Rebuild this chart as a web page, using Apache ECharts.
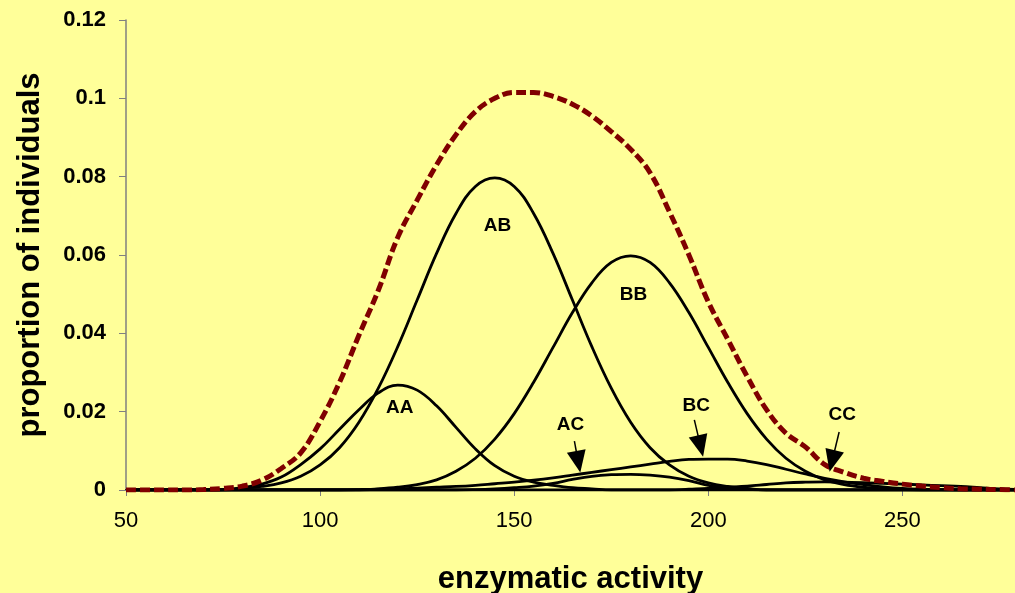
<!DOCTYPE html>
<html>
<head>
<meta charset="utf-8">
<script src="https://cdn.jsdelivr.net/npm/echarts@6/dist/echarts.min.js"></script>
<style>
html,body{margin:0;padding:0;background:#FFFF99;}
#chart{width:1015px;height:593px;}
</style>
</head>
<body>
<div id="chart"></div>
<script>
// enzymatic activity (x values)
var xs = [50,55,60,65,70,75,80,85,90,95,100,105,110,115,120,125,130,135,140,145,150,155,160,165,170,175,180,185,190,195,200,205,210,215,220,225,230,235,240,245,250,255,260,265,270,275,280];

var total = [0,0,0,0,0.0001,0.0004,0.001,0.0025,0.0055,0.0095,0.0175,0.0275,0.0395,0.051,0.0645,0.074,0.083,0.0907,0.0966,0.1,0.1015,0.1015,0.1005,0.0985,0.0955,0.0915,0.087,0.081,0.071,0.06,0.048,0.0385,0.029,0.0205,0.0145,0.011,0.0065,0.0045,0.003,0.0022,0.0015,0.001,0.0006,0.0003,0.0002,0.0001,0];

var AA = [0,0,0,0,0,0.0001,0.0006,0.0015,0.0033,0.0065,0.0105,0.0155,0.0205,0.0248,0.0268,0.0255,0.0215,0.016,0.0105,0.0062,0.0035,0.002,0.0012,0.0006,0.0003,0,0,0,0,0,0,0,0,0,0,0,0,0,0,0,0,0,0,0,0,0,0];

var AB = [0,0,0,0,0,0,0.0004,0.0009,0.0018,0.0035,0.0064,0.0108,0.0173,0.026,0.0366,0.0485,0.0604,0.0706,0.0775,0.0797,0.0775,0.0706,0.0604,0.0485,0.0366,0.026,0.0173,0.0108,0.0064,0.0035,0.0018,0.0009,0.0004,0,0,0,0,0,0,0,0,0,0,0,0,0,0];

var BB = [0,0,0,0,0,0,0,0,0,0,0,0,0.0001,0.0003,0.0007,0.0014,0.0026,0.0048,0.0081,0.013,0.0195,0.0275,0.0364,0.0453,0.0529,0.0581,0.0598,0.0581,0.0529,0.0453,0.0364,0.0275,0.0195,0.013,0.0081,0.0048,0.0026,0.0014,0.0007,0.0003,0.0001,0,0,0,0,0,0];

var AC = [0,0,0,0,0,0,0,0,0,0,0,0,0,0,0,0,0,0,0.0001,0.0003,0.0006,0.001,0.0017,0.0027,0.0035,0.0039,0.004,0.0038,0.0033,0.0024,0.0012,0.0005,0.0002,0,0,0,0,0,0,0,0,0,0,0,0,0,0];

var BC = [0,0,0,0,0,0,0,0,0,0,0,0,0,0.0002,0.0003,0.0005,0.0007,0.0009,0.0012,0.0016,0.002,0.0025,0.0031,0.0038,0.0045,0.0052,0.0059,0.0066,0.0073,0.0078,0.0079,0.0079,0.0074,0.0065,0.0053,0.0041,0.003,0.0021,0.0014,0.0008,0.0004,0.0002,0.0001,0,0,0,0];

var CC = [0,0,0,0,0,0,0,0,0,0,0,0,0,0,0,0,0,0,0,0,0,0,0,0,0,0,0,0,0,0.0002,0.0004,0.0007,0.001,0.0014,0.0018,0.002,0.0021,0.002,0.0019,0.0017,0.0015,0.0013,0.0011,0.0009,0.0006,0.0003,0.0001];

// curve labels [text, x, y]
var curveLabels = [["AA",120.5,0.0209],["AB",145.7,0.0674],["BB",180.7,0.0498],["AC",164.5,0.0166],["BC",196.9,0.0215],["CC",234.5,0.0192]];
// arrows [[x0,y0],[x1,y1]]
var arrows = [[[165.5,0.0125],[166.5,0.0072]],[[196.4,0.0179],[198.0,0.0112]],[[233.7,0.0148],[231.9,0.0074]]];

var xTicks = {min:50, max:279, interval:50};
var yTicks = {min:0, max:0.12, interval:0.02};

function pairs(arr){ return xs.map(function(x,i){ return [x, arr[i]]; }); }

var FONT = "'Liberation Sans', Arial, sans-serif";
var chart = echarts.init(document.getElementById('chart'), null, {renderer:'canvas'});

function blackSeries(name, arr){
  return {name:name, type:'line', data:pairs(arr), smooth:0.4, symbol:'none', z:3, clip:true,
    lineStyle:{color:'#000000', width:2.8}, animation:false};
}

var series = [
  blackSeries('AA', AA), blackSeries('AB', AB), blackSeries('BB', BB),
  blackSeries('AC', AC), blackSeries('BC', BC), blackSeries('CC', CC),
  {name:'total', type:'line', data:pairs(total), smooth:0.4, symbol:'none', z:4, clip:true,
   lineStyle:{color:'#800000', width:5, type:[10,4]}, animation:false},
  {name:'annot', type:'scatter', data:[], z:6, animation:false,
   markPoint:{symbol:'circle', symbolSize:0, animation:false,
     label:{show:true, position:'inside', color:'#000', fontFamily:FONT, fontWeight:'bold', fontSize:19,
       formatter:function(p){ return p.name; }},
     data: curveLabels.map(function(c){ return {name:c[0], coord:[c[1], c[2]]}; })},
   markLine:{symbol:['none','triangle'], symbolSize:[19,22], silent:true, animation:false,
     label:{show:false}, lineStyle:{color:'#000', width:1.5, type:'solid'},
     data: arrows.map(function(a){ return [{coord:a[0]},{coord:a[1]}]; })}
  }
];

chart.setOption({
  backgroundColor:'#FFFF99',
  animation:false,
  grid:{left:126, top:20, right:0, bottom:103, containLabel:false, outerBoundsMode:'none'},
  xAxis:{type:'value', min:xTicks.min, max:xTicks.max, interval:xTicks.interval,
    name:'enzymatic activity', nameLocation:'middle', nameGap:74,
    nameTextStyle:{color:'#000', fontFamily:FONT, fontWeight:'bold', fontSize:31},
    axisLine:{show:true, onZero:false, lineStyle:{color:'#000', width:2}},
    axisTick:{show:true, length:6, lineStyle:{color:'#808080', width:1}},
    axisLabel:{color:'#000', fontFamily:FONT, fontSize:22, margin:20, showMaxLabel:false},
    splitLine:{show:false}},
  yAxis:{type:'value', min:yTicks.min, max:yTicks.max, interval:yTicks.interval,
    name:'proportion of individuals', nameLocation:'middle', nameGap:80,
    nameTextStyle:{color:'#000', fontFamily:FONT, fontWeight:'bold', fontSize:31},
    axisLine:{show:true, lineStyle:{color:'#808080', width:1.5}},
    axisTick:{show:true, length:7, lineStyle:{color:'#808080', width:1}},
    axisLabel:{color:'#000', fontFamily:FONT, fontWeight:'bold', fontSize:22, margin:20},
    splitLine:{show:false}},
  series:series
});
</script>
</body>
</html>
